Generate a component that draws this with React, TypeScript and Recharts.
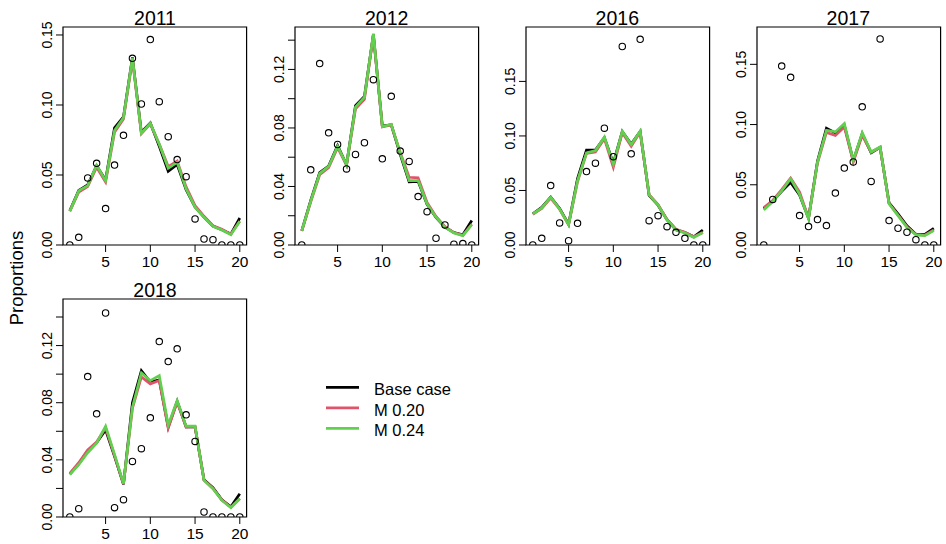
import React from 'react';
import { LineChart, Line, XAxis, YAxis, ReferenceArea } from 'recharts';

const AGES = [1, 2, 3, 4, 5, 6, 7, 8, 9, 10, 11, 12, 13, 14, 15, 16, 17, 18, 19, 20];
const X_TICKS = [5, 10, 15, 20];

const OBS_2011 = [0, 0.0055, 0.0479, 0.0583, 0.026, 0.0571, 0.0783, 0.1333, 0.1007, 0.1467, 0.1024, 0.0774, 0.061, 0.0488, 0.0186, 0.0043, 0.0038, 0, 0, 0];
const BASE_2011 = [0.0245, 0.039, 0.043, 0.0565, 0.0465, 0.0836, 0.0915, 0.134, 0.0805, 0.0872, 0.0705, 0.0526, 0.0575, 0.0395, 0.0272, 0.02, 0.0135, 0.0108, 0.0078, 0.0193];
const M20_2011 = [0.0242, 0.0378, 0.0418, 0.0555, 0.045, 0.0805, 0.09, 0.1325, 0.0795, 0.0865, 0.0722, 0.056, 0.06, 0.0415, 0.0282, 0.0205, 0.0138, 0.0112, 0.0078, 0.017];
const M24_2011 = [0.024, 0.0388, 0.0424, 0.057, 0.046, 0.0817, 0.091, 0.1336, 0.0798, 0.0869, 0.072, 0.0548, 0.059, 0.04, 0.027, 0.0198, 0.0133, 0.0107, 0.0074, 0.0169];

const OBS_2012 = [0, 0.0514, 0.124, 0.0767, 0.0687, 0.052, 0.0619, 0.0699, 0.113, 0.0589, 0.1016, 0.0642, 0.0571, 0.0331, 0.0228, 0.0046, 0.0137, 0.0005, 0.001, 0];
const BASE_2012 = [0.0098, 0.0305, 0.0495, 0.054, 0.068, 0.0548, 0.0952, 0.1015, 0.144, 0.0812, 0.0822, 0.062, 0.0432, 0.0435, 0.0278, 0.0188, 0.0122, 0.0085, 0.007, 0.0167];
const M20_2012 = [0.0095, 0.0295, 0.048, 0.0528, 0.0665, 0.0545, 0.093, 0.0995, 0.1435, 0.0808, 0.082, 0.0632, 0.0463, 0.0459, 0.029, 0.0195, 0.0126, 0.0085, 0.0066, 0.0142];
const M24_2012 = [0.0098, 0.03, 0.049, 0.0537, 0.0676, 0.055, 0.0943, 0.101, 0.1445, 0.081, 0.0824, 0.0628, 0.044, 0.044, 0.028, 0.019, 0.0121, 0.0082, 0.0064, 0.0139];

const OBS_2016 = [0, 0.0061, 0.0545, 0.0202, 0.004, 0.0199, 0.0673, 0.075, 0.1071, 0.081, 0.182, 0.0836, 0.1886, 0.0223, 0.0269, 0.0168, 0.0116, 0.0061, 0, 0];
const BASE_2016 = [0.0285, 0.0345, 0.044, 0.0335, 0.019, 0.061, 0.087, 0.087, 0.0985, 0.075, 0.104, 0.0925, 0.104, 0.0455, 0.0365, 0.0232, 0.014, 0.0114, 0.0075, 0.0138];
const M20_2016 = [0.028, 0.0335, 0.043, 0.0328, 0.0185, 0.058, 0.084, 0.0852, 0.0975, 0.0712, 0.103, 0.0905, 0.1035, 0.0462, 0.037, 0.0235, 0.0145, 0.0118, 0.0075, 0.0115];
const M24_2016 = [0.0285, 0.034, 0.0438, 0.033, 0.0187, 0.059, 0.0845, 0.0866, 0.0989, 0.0742, 0.1044, 0.0921, 0.1044, 0.0459, 0.0367, 0.023, 0.0138, 0.011, 0.007, 0.0113];

const OBS_2017 = [0, 0.0378, 0.1486, 0.1392, 0.0244, 0.0153, 0.0211, 0.0161, 0.0431, 0.0639, 0.0689, 0.1147, 0.0528, 0.1711, 0.0203, 0.0139, 0.0106, 0.0044, 0, 0];
const BASE_2017 = [0.03, 0.0365, 0.0445, 0.052, 0.0415, 0.0222, 0.0695, 0.097, 0.093, 0.0995, 0.07, 0.0925, 0.0765, 0.081, 0.035, 0.0258, 0.016, 0.009, 0.0088, 0.0139];
const M20_2017 = [0.031, 0.037, 0.046, 0.0555, 0.044, 0.0225, 0.068, 0.0935, 0.091, 0.098, 0.069, 0.091, 0.077, 0.081, 0.0345, 0.0248, 0.015, 0.0088, 0.0082, 0.0125];
const M24_2017 = [0.029, 0.036, 0.045, 0.055, 0.042, 0.0217, 0.0689, 0.0953, 0.0939, 0.1008, 0.0703, 0.0933, 0.0772, 0.0814, 0.0342, 0.0244, 0.0147, 0.0083, 0.0078, 0.0119];

const OBS_2018 = [0, 0.0058, 0.0983, 0.0722, 0.1428, 0.0065, 0.0121, 0.0389, 0.0478, 0.0694, 0.1228, 0.1088, 0.1177, 0.0715, 0.0529, 0.0035, 0, 0, 0, 0];
const BASE_2018 = [0.03, 0.0372, 0.0462, 0.052, 0.061, 0.0425, 0.0228, 0.08, 0.1025, 0.0945, 0.096, 0.063, 0.081, 0.063, 0.063, 0.026, 0.0205, 0.012, 0.0072, 0.0163];
const M20_2018 = [0.0305, 0.038, 0.047, 0.0525, 0.0625, 0.043, 0.023, 0.076, 0.098, 0.0932, 0.0955, 0.0622, 0.0805, 0.063, 0.0632, 0.0258, 0.02, 0.0118, 0.0068, 0.013];
const M24_2018 = [0.0296, 0.0366, 0.045, 0.0517, 0.0636, 0.0438, 0.0233, 0.0769, 0.1009, 0.0955, 0.099, 0.0645, 0.0815, 0.0636, 0.0636, 0.0256, 0.0198, 0.0116, 0.0065, 0.0128];

const TICKS_05 = [0, 0.05, 0.1, 0.15];
const TICKS_02 = [0, 0.02, 0.04, 0.06, 0.08, 0.1, 0.12, 0.14];
const LABELS_04 = [0, 0.04, 0.08, 0.12];

const SERIES_NAMES = ['Base case', 'M 0.20', 'M 0.24'];
const COLORS = ['#000000', '#DF536B', '#61D04F'];

const FONT = '"Liberation Sans", Arial, Helvetica, sans-serif';

const BOX_W = 183.6;
const BOX_H = 218;
const YW = 50;
const TM = 26;
const RM = 2;
const XH = 30;

type Panel = {
  year: string;
  obs: number[];
  base: number[];
  m20: number[];
  m24: number[];
  yTop: number;
  yTicks: number[];
  yLabels: number[];
  left: number;
  top: number;
};

const PANELS: Panel[] = [
  { year: '2011', obs: OBS_2011, base: BASE_2011, m20: M20_2011, m24: M24_2011, yTop: 0.1557, yTicks: TICKS_05, yLabels: TICKS_05, left: 63.2, top: 26.5 },
  { year: '2012', obs: OBS_2012, base: BASE_2012, m20: M20_2012, m24: M24_2012, yTop: 0.149, yTicks: TICKS_02, yLabels: LABELS_04, left: 294.9, top: 26.5 },
  { year: '2016', obs: OBS_2016, base: BASE_2016, m20: M20_2016, m24: M24_2016, yTop: 0.1999, yTicks: TICKS_05, yLabels: TICKS_05, left: 525.5, top: 26.5 },
  { year: '2017', obs: OBS_2017, base: BASE_2017, m20: M20_2017, m24: M24_2017, yTop: 0.181, yTicks: TICKS_05, yLabels: TICKS_05, left: 756.5, top: 26.5 },
  { year: '2018', obs: OBS_2018, base: BASE_2018, m20: M20_2018, m24: M24_2018, yTop: 0.1526, yTicks: TICKS_02, yLabels: LABELS_04, left: 63.2, top: 298.5 },
];

const makeYTick = (labels: number[]) => (props: any) => {
  const { x, y, payload } = props;
  const v = payload.value as number;
  if (!labels.some((l) => Math.abs(l - v) < 1e-9)) return <g />;
  return (
    <text
      transform={`translate(${x},${y}) rotate(-90)`}
      textAnchor="middle"
      fontSize={14}
      fontFamily={FONT}
      fill="#000"
    >
      {v.toFixed(2)}
    </text>
  );
};

const XTick = (props: any) => {
  const { x, y, payload } = props;
  return (
    <text x={x} y={y} dy={11.4} textAnchor="middle" fontSize={15.5} fontFamily={FONT} fill="#000">
      {payload.value}
    </text>
  );
};

const PanelChart = ({ p }: { p: Panel }) => {
  const data = AGES.map((a, i) => ({ age: a, obs: p.obs[i], base: p.base[i], m20: p.m20[i], m24: p.m24[i] }));
  return (
    <div style={{ position: 'absolute', left: p.left - YW, top: p.top - TM }}>
      <LineChart
        width={YW + BOX_W + RM}
        height={TM + BOX_H + XH}
        data={data}
        margin={{ top: TM, right: RM, left: 0, bottom: 0 }}
      >
        <XAxis
          dataKey="age"
          type="number"
          domain={[0.24, 20.76]}
          allowDataOverflow
          ticks={X_TICKS}
          height={XH}
          axisLine={false}
          tickLine={{ stroke: '#000', strokeWidth: 1 }}
          tickSize={7}
          tickMargin={4}
          tick={XTick}
          interval={0}
        />
        <YAxis
          type="number"
          domain={[0, p.yTop]}
          allowDataOverflow
          ticks={p.yTicks}
          width={YW}
          axisLine={false}
          tickLine={{ stroke: '#000', strokeWidth: 1 }}
          tickSize={7}
          tickMargin={4}
          tick={makeYTick(p.yLabels)}
          interval={0}
        />
        <Line
          dataKey="obs"
          stroke="none"
          isAnimationActive={false}
          dot={{ r: 3.2, stroke: '#000', strokeWidth: 1.1, fill: 'none', clipDot: true }}
          activeDot={false}
        />
        <Line dataKey="base" stroke={COLORS[0]} strokeWidth={2.7} dot={false} activeDot={false} isAnimationActive={false} />
        <Line dataKey="m20" stroke={COLORS[1]} strokeWidth={2.7} dot={false} activeDot={false} isAnimationActive={false} />
        <Line dataKey="m24" stroke={COLORS[2]} strokeWidth={2.7} dot={false} activeDot={false} isAnimationActive={false} />
        <ReferenceArea x1={0.24} x2={20.76} y1={0} y2={p.yTop} fill="none" stroke="#000" strokeWidth={1.2} ifOverflow="visible" />
      </LineChart>
    </div>
  );
};

export default function App() {
  return (
    <div style={{ position: 'absolute', left: 0, top: 0, width: 946, height: 544, background: '#fff', overflow: 'hidden' }}>
      {PANELS.map((p) => (
        <PanelChart key={p.year} p={p} />
      ))}
      <svg width={946} height={544} style={{ position: 'absolute', left: 0, top: 0, pointerEvents: 'none' }}>
        {PANELS.map((p) => (
          <text key={p.year} x={p.left + BOX_W / 2} y={p.top - 1.6} textAnchor="middle" fontSize={19.5} fontFamily={FONT} fill="#000">
            {p.year}
          </text>
        ))}
        <text transform="translate(23,278) rotate(-90)" textAnchor="middle" fontSize={18.5} fontFamily={FONT} fill="#000">
          Proportions
        </text>
        {SERIES_NAMES.map((name, i) => (
          <g key={name}>
            <line x1={326} x2={359} y1={387.3 + i * 20.5} y2={387.3 + i * 20.5} stroke={COLORS[i]} strokeWidth={2.7} />
            <text x={374} y={395 + i * 20.5} fontSize={16.5} fontFamily={FONT} fill="#000">
              {name}
            </text>
          </g>
        ))}
      </svg>
    </div>
  );
}
